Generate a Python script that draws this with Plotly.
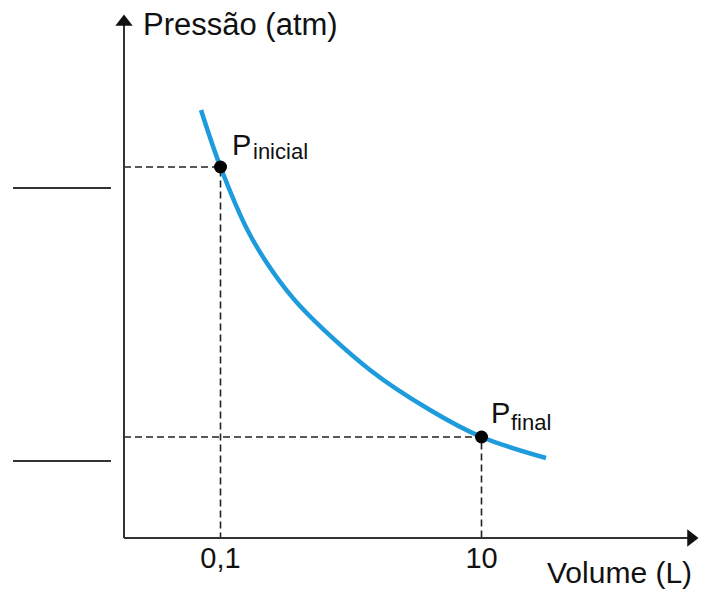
import numpy as np
import plotly.graph_objects as go

# ---- data (pressure in arbitrary schematic units) ----
volume_curve = [0.0709, 0.1, 0.1624, 0.2525, 0.4066, 1.398, 4.031, 10.0, 31.2]
pressure_curve = [428, 371, 307, 266, 232, 168, 128, 101, 80]

point_names = ["inicial", "final"]
volume_points = [0.1, 10.0]
pressure_points = [371, 101]

tick_vals = [0.1, 10.0]
tick_text = ["0,1", "10"]

axis_origin_volume = 0.01822
axis_origin_pressure = 0
axis_end_volume = 403.0
axis_end_pressure = 516

blank_line_pressures = [350, 77]

# ---- style ----
FONT = "Liberation Sans, Arial, sans-serif"
TXT = "#111111"
W, H = 703, 589
# pixel mapping: x=0.1 at px 220.5, x=10 at px 481.5 (log axis)
dec = 130.5
xr = [-1 - 220.5 / dec, -1 + (W - 220.5) / dec]
yr = [-(H - 538), 538]

fig = go.Figure()

# dashed guide lines
for v, p in zip(volume_points, pressure_points):
    fig.add_trace(go.Scatter(
        x=[axis_origin_volume, v, v], y=[p, p, axis_origin_pressure],
        mode="lines", line=dict(color="#222222", width=1.6, dash="7px,4px"),
        hoverinfo="skip", showlegend=False))

# axes
fig.add_trace(go.Scatter(
    x=[axis_origin_volume, axis_origin_volume], y=[axis_origin_pressure, axis_end_pressure],
    mode="lines", line=dict(color="#333333", width=2), showlegend=False, hoverinfo="skip"))
fig.add_trace(go.Scatter(
    x=[axis_origin_volume, axis_end_volume], y=[axis_origin_pressure, axis_origin_pressure],
    mode="lines", line=dict(color="#333333", width=2), showlegend=False, hoverinfo="skip"))
fig.add_trace(go.Scatter(
    x=[axis_origin_volume, axis_end_volume], y=[axis_end_pressure, axis_origin_pressure],
    mode="markers", marker=dict(symbol=["triangle-up", "triangle-right"], size=15, color="#111111"),
    showlegend=False, hoverinfo="skip"))

# curve
fig.add_trace(go.Scatter(
    x=volume_curve, y=pressure_curve, mode="lines",
    line=dict(color="#1E9BDC", width=4.5, shape="spline", smoothing=1.0),
    showlegend=False))

# points
fig.add_trace(go.Scatter(
    x=volume_points, y=pressure_points, mode="markers",
    marker=dict(color="#000000", size=13), showlegend=False))

annotations = []
p_shift = [(9, 22), (7, 24)]
s_shift = [(30, 16), (27.5, 15)]
for name, v, p, ps, ss in zip(point_names, volume_points, pressure_points, p_shift, s_shift):
    annotations.append(dict(x=np.log10(v), y=p, xref="x", yref="y", text="P", showarrow=False,
                            xanchor="left", yanchor="middle", xshift=ps[0], yshift=ps[1],
                            font=dict(family=FONT, size=29, color=TXT)))
    annotations.append(dict(x=np.log10(v), y=p, xref="x", yref="y", text=name, showarrow=False,
                            xanchor="left", yanchor="middle", xshift=ss[0], yshift=ss[1],
                            font=dict(family=FONT, size=22, color=TXT)))

annotations.append(dict(x=141 / W, y=1 - 24 / H, xref="paper", yref="paper", text="Pressão (atm)",
                        showarrow=False, xanchor="left", yanchor="middle",
                        font=dict(family=FONT, size=31, color=TXT)))
annotations.append(dict(x=545 / W, y=1 - 572 / H, xref="paper", yref="paper", text="Volume (L)",
                        showarrow=False, xanchor="left", yanchor="middle",
                        font=dict(family=FONT, size=30, color=TXT)))

shapes = []
for bp in blank_line_pressures:
    shapes.append(dict(type="line", xref="paper", yref="y", x0=13 / W, x1=111 / W, y0=bp, y1=bp,
                       line=dict(color="#333333", width=2)))

fig.update_layout(
    width=W, height=H, margin=dict(l=0, r=0, t=0, b=0),
    paper_bgcolor="white", plot_bgcolor="white",
    annotations=annotations, shapes=shapes,
    xaxis=dict(type="log", range=xr, showgrid=False, zeroline=False, showline=False,
               tickvals=tick_vals, ticktext=tick_text, ticks="",
               tickfont=dict(family=FONT, size=29, color=TXT),
               anchor="free", position=(H - 538) / H),
    yaxis=dict(range=yr, visible=False, showgrid=False, zeroline=False),
)

fig.write_html("out.html", config={"displayModeBar": False},
               post_script="document.body.style.margin='0px';document.body.style.overflow='hidden';")
